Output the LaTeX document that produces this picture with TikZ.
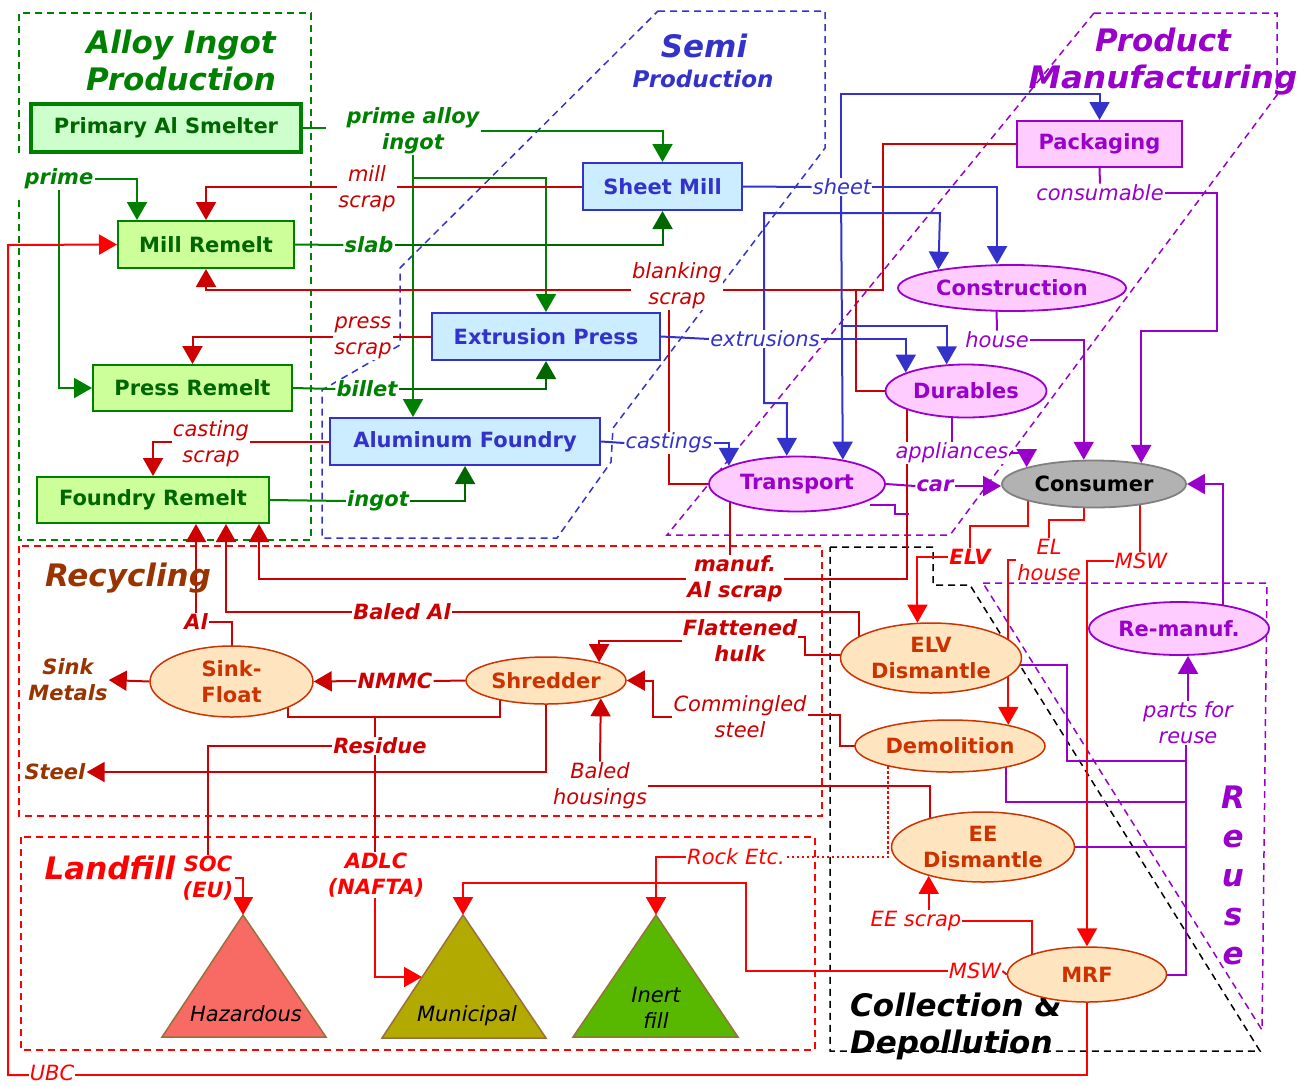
\documentclass[tikz,border=0pt]{standalone}
\usepackage{fontspec}
\setmainfont{DejaVu Sans}
\usetikzlibrary{arrows.meta,shapes.geometric,backgrounds}
\definecolor{gr}{HTML}{008000}
\definecolor{dgr}{HTML}{006600}
\definecolor{bl}{HTML}{3333CC}
\definecolor{pu}{HTML}{9900CC}
\definecolor{dr}{HTML}{CC0000}
\definecolor{rd}{HTML}{FF0000}
\definecolor{br}{HTML}{993300}
\definecolor{orb}{HTML}{CC3300}
\definecolor{smf}{HTML}{CCFFCC}
\definecolor{remf}{HTML}{CCFF99}
\definecolor{semf}{HTML}{CCECFF}
\definecolor{prf}{HTML}{FFCCFF}
\definecolor{recf}{HTML}{FFE5BF}
\definecolor{cong}{HTML}{B2B2B2}
\definecolor{cond}{HTML}{808080}
\definecolor{hazf}{HTML}{F76B64}
\definecolor{munf}{HTML}{B2AA00}
\definecolor{inf}{HTML}{58B800}
\definecolor{tribr}{HTML}{99703D}
\newcommand\fsA{\fontsize{21}{26}\selectfont}
\newcommand\fsT{\fontsize{31}{37}\selectfont}
\newcommand\fsS{\fontsize{23}{28}\selectfont}
\newcommand\fsR{\fontsize{31}{39}\selectfont}
\begin{document}
\begin{tikzpicture}[x=1pt,y=-1pt,
  ln/.style={line width=2pt},
  arr/.style={line width=2pt,-{Triangle[length=18pt,width=20pt]}},
  reg/.style={line width=1.5pt,dash pattern=on 7pt off 5pt},
  lab/.style={fill=white,inner sep=1pt,align=center,font=\fsA\itshape},
  blab/.style={fill=white,inner sep=1pt,align=center,font=\fsA\bfseries\itshape},
  ttl/.style={align=center,font=\fsT\bfseries\itshape,inner sep=0pt},
  box/.style={draw,line width=2pt,inner sep=0pt,font=\fsA\bfseries},
  ell/.style={ellipse,draw,line width=1.8pt,inner sep=0pt,align=center,font=\fsA\bfseries},
  rem/.style={box,fill=remf,draw=gr,text=dgr},
  semi/.style={box,fill=semf,draw=bl,text=bl},
  prod/.style={ell,fill=prf,draw=pu,text=pu},
  recy/.style={ell,fill=recf,draw=orb,text=orb,line width=1.5pt},
  tri/.style={draw=tribr,line width=1.5pt}
]
\useasboundingbox (0,0) rectangle (1305,1085);

% ---------- titles ----------
\node[ttl,text=gr] (t1) at (181,60.5) {Alloy Ingot\\Production};
\node[ttl,text=bl] (t2) at (704,46) {Semi};
\node[font=\fsS\bfseries\itshape,text=bl,inner sep=0pt] (t2b) at (703,79) {Production};
\node[ttl,text=pu] (t3) at (1163,62) {Product\\\scalebox{1.05}[1]{Manufacturing}};
\node[ttl,text=br] (t4) at (128,578) {Recycling};
\node[ttl,text=rd] (t5) at (110,868) {Landfill};
\node[ttl,text=black,align=left,anchor=west] (t6) at (850,1026) {Collection \&\\Depollution};
\node[align=center,inner sep=0pt,font=\fsR\bfseries\itshape,text=pu] (t7) at (1233,875) {R\\e\\u\\s\\e};

% ---------- boxes ----------
\node[box,fill=smf,draw=gr,text=dgr,line width=3.5pt,minimum width=270pt,minimum height=48pt] (smelter) at (166,128) {Primary Al Smelter};
\node[rem,minimum width=176pt,minimum height=47pt] (mill) at (206,244.5) {Mill Remelt};
\node[rem,minimum width=199pt,minimum height=46pt] (press) at (192.5,388) {Press Remelt};
\node[rem,minimum width=232pt,minimum height=46pt] (foundryR) at (153,500) {Foundry Remelt};
\node[semi,minimum width=159pt,minimum height=47pt] (sheet) at (662.5,186.5) {Sheet Mill};
\node[semi,minimum width=228pt,minimum height=47pt] (extr) at (546,336.5) {Extrusion Press};
\node[semi,minimum width=270pt,minimum height=47pt] (alfound) at (465,441.5) {Aluminum Foundry};
\node[box,fill=prf,draw=pu,text=pu,minimum width=165pt,minimum height=46pt] (pack) at (1099.5,144) {Packaging};

% ---------- ellipses ----------
\node[prod,minimum width=228pt,minimum height=46pt] (constr) at (1012,288) {Construction};
\node[prod,minimum width=161pt,minimum height=53pt] (durab) at (966,391) {Durables};
\node[prod,minimum width=176pt,minimum height=55pt] (transp) at (797,484) {Transport};
\node[ell,fill=cong,draw=cond,text=black,minimum width=184pt,minimum height=47pt] (consumer) at (1094,484) {Consumer};
\node[recy,minimum width=163pt,minimum height=71pt] (sinkf) at (231.5,681.5) {Sink-\\Float};
\node[recy,minimum width=160pt,minimum height=47pt] (shred) at (546,680.5) {Shredder};
\node[recy,minimum width=181pt,minimum height=70pt] (elv) at (931,658) {ELV\\Dismantle};
\node[recy,minimum width=190pt,minimum height=52pt] (demol) at (950,746) {Demolition};
\node[recy,minimum width=183pt,minimum height=70pt] (eed) at (983,847) {EE\\Dismantle};
\node[recy,minimum width=159pt,minimum height=55pt] (mrf) at (1087,974.5) {MRF};
\node[prod,minimum width=180pt,minimum height=53pt] (remanuf) at (1179,628.5) {Re-manuf.};

% ---------- landfills ----------
\filldraw[tri,fill=hazf] (243,915) -- (326,1037) -- (162,1037) -- cycle;
\filldraw[tri,fill=munf] (463,915) -- (546,1038) -- (382,1038) -- cycle;
\filldraw[tri,fill=inf] (656,915) -- (738,1037) -- (573,1037) -- cycle;
\node[font=\fsA\itshape] (hazt) at (246,1014) {Hazardous};
\node[font=\fsA\itshape] (munt) at (467,1016) {Municipal};
\node[font=\fsA\itshape,align=center] (inertt) at (656,1008) {Inert\\fill};
\coordinate (haz) at (243,915);
\coordinate (muni) at (463,915);
\coordinate (inert) at (656,915);
\coordinate (munil) at (422,977);

% ---------- labels ----------
\node[blab,text=gr] (pai) at (413,131) {prime alloy\\ingot};
\node[blab,text=gr] (prime) at (59,179) {prime};
\node[blab,text=gr] (slab) at (369,245) {slab};
\node[blab,text=gr] (billet) at (367,389) {billet};
\node[blab,text=gr] (ingot) at (378,501) {ingot};
\node[lab,text=dr] (millscrap) at (367,189) {mill\\scrap};
\node[lab,text=dr] (pressscrap) at (363,338) {press\\scrap};
\node[lab,text=dr] (castscrap) at (211,444) {casting\\scrap};
\node[lab,text=dr] (blank) at (677,286) {blanking\\scrap};
\node[lab,text=bl] (sheetl) at (842,187) {sheet};
\node[lab,text=bl] (extrl) at (765,339) {extrusions};
\node[lab,text=bl] (castl) at (669,443) {castings};
\node[lab,text=pu] (consl) at (1100,193) {consumable};
\node[lab,text=pu] (housel) at (997,340) {house};
\node[lab,text=pu] (appl) at (952,453) {appliances};
\node[blab,text=pu] (carl) at (935,486) {car};
\node[blab,text=rd] (elvl) at (970,557) {ELV};
\node[lab,text=rd] (elh) at (1049,560) {EL\\house};
\node[lab,text=rd] (msw1) at (1141,561) {MSW};
\node[blab,text=dr] (manuf) at (735,579) {manuf.\\Al scrap};
\node[blab,text=dr] (baledal) at (402,612) {Baled Al};
\node[blab,text=dr] (al) at (196,622) {Al};
\node[blab,text=dr] (flat) at (740,641) {Flattened\\hulk};
\node[lab,text=dr] (comm) at (740,717) {Commingled\\steel};
\node[lab,text=dr] (baledh) at (600,786) {Baled\\housings};
\node[blab,text=dr] (nmmc) at (395,681) {NMMC};
\node[blab,text=br] (sinkm) at (68,680) {Sink\\Metals};
\node[blab,text=br] (steel) at (55,772) {Steel};
\node[blab,text=dr] (residue) at (380,746) {Residue};
\node[blab,text=rd] (soc) at (208,878) {SOC\\(EU)};
\node[blab,text=rd] (adlc) at (376,875) {ADLC\\(NAFTA)};
\node[lab,text=rd] (rock) at (736,857) {Rock Etc.};
\node[lab,text=rd] (eescrap) at (916,921) {EE scrap};
\node[lab,text=rd] (msw2) at (975,971) {MSW};
\node[lab,text=rd,inner sep=0.5pt] (ubc) at (52,1073) {UBC};
\node[lab,text=pu] (parts) at (1188,723) {parts for\\reuse};

\begin{pgfonlayer}{background}
% ---------- regions ----------
\draw[reg,gr] (19,153) -- (19,13) -- (311,13) -- (311,540) -- (19,540) -- (19,200);
\draw[reg,bl] (658,11) -- (825,11) -- (825,148) -- (613,428) -- (611,462) -- (557,538) -- (322,538) -- (322,390) -- (400,345) -- (400,268) -- cycle;
\draw[reg,pu] (1094,13) -- (1277,13) -- (1277,95) -- (950,535) -- (667,535) -- cycle;
\draw[reg,rd] (19,546) rectangle (822,816);
\draw[reg,rd] (21,837) rectangle (815,1050);
\draw[reg,black] (830,547) -- (933,547) -- (933,585) -- (970,585) -- (1260,1051) -- (830,1051) -- cycle;
\draw[reg,pu] (983,583) -- (1267,583) -- (1262,1030) -- cycle;

% ---------- green ----------
\draw[ln,gr] (smelter.east) -- +(23,0);
\draw[arr,gr] (pai.east) -| (sheet.north);
\draw[arr,gr] (pai.south) -- (pai.south |- alfound.north);
\draw[arr,gr] (413,178) -| (extr.north);
\draw[arr,gr] (prime.east) -| ([xshift=20pt]mill.north west);
\draw[arr,gr] (prime.south) |- (press.west);
\draw[ln,gr] (mill.east) -- (slab.west);
\draw[arr,dgr] (slab.east) -| (sheet.south);
\draw[ln,gr] (press.east) -- (billet.west);
\draw[arr,dgr] (billet.east) -| (extr.south);
\draw[ln,gr] (foundryR.east) -- (ingot.west);
\draw[arr,dgr] (ingot.east) -| (alfound.south);

% ---------- red, upper ----------
\draw[arr,dr] (sheet.west) -| (mill.north);
\draw[arr,dr] (pack.west) -| (883,290) -| (mill.south);
\draw[ln,dr] (durab.center) -| (856,290);
\draw[ln,dr] (transp.center) -| (669,290);
\draw[arr,dr] (extr.west) -| (press.north);
\draw[arr,dr] (alfound.west) -| (foundryR.north);
\draw[ln,dr] ([xshift=-59pt]durab.center) |- (manuf.east);
\draw[ln,dr] ([xshift=-67pt]transp.center) -- ([xshift=-5pt]manuf.north);
\draw[arr,dr] (manuf.west) -| ([xshift=-11pt]foundryR.south east);
\draw[ln,dr] ([xshift=-72pt]elv.center) |- (baledal.east);
\draw[arr,dr] (baledal.west) -| ([xshift=73pt]foundryR.south);
\draw[ln,dr] (sinkf.center) |- (al.east);
\draw[arr,dr] (al.north) -- (al.north |- foundryR.south);
\draw[ln,dr] ([yshift=3pt]elv.center) -| (805,637) -- (flat.east |- 805,637);
\draw[arr,dr] (flat.west) -| (shred.19);
\draw[ln,dr] (demol.center) -| (840,715) -- (comm.east |- 840,715);
\draw[arr,dr] (comm.west) -| (653,680.5) -- (shred.east);
\draw[ln,dr] ([xshift=-53pt]eed.center) |- (baledh.east);
\draw[arr,dr] (baledh.north) -- (shred.342);
\draw[ln,dr] (shred.west) -- (nmmc.east);
\draw[arr,dr] (nmmc.west) -- (sinkf.east);
\draw[arr,dr] (sinkf.west) -- (sinkm.east);
\draw[arr,dr] (shred.center) |- (steel.east);
\draw[ln,dr] ([xshift=56pt]sinkf.center) |- (500,717) -- ([xshift=-46pt]shred.center);
\draw[ln,dr] (375,717) -- (adlc.center -| 375,0);
\draw[ln,dr] (residue.west) -| (soc.north);
\draw[arr,rd] (soc.east) -| (haz);
\draw[arr,rd] (adlc.south -| 375,0) |- (munil);

% ---------- red, lower ----------
\draw[rd,line width=2.5pt,dash pattern=on 2.5pt off 2.5pt] ([xshift=-62pt]demol.center) |- (rock.east);
\draw[arr,rd] (rock.west) -| (inert);
\draw[ln,rd] ([xshift=-55pt]mrf.center) |- (eescrap.east);
\draw[arr,rd] (eed.208 |- eescrap.north) -- (eed.208);
\draw[ln,rd] (mrf.west) -- (msw2.east);
\draw[arr,rd] (msw2.west) -| (746,883) -| (muni);
\draw[ln,rd] ([xshift=-66pt]consumer.center) |- (970,526) -- (elvl.north);
\draw[arr,rd] (elvl.west) -| (elv.111);
\draw[ln,rd] ([xshift=-10pt]consumer.center) |- (1049,520) -- (elh.north);
\draw[arr,rd] (elh.west) -| (demol.20);
\draw[ln,rd] ([xshift=46pt]consumer.center) -- (msw1.north -| 1140,0);
\draw[arr,rd] (msw1.west) -| (mrf.north);
\draw[ln,rd] (mrf.center) |- (1087,1075) -- (ubc.east |- 1087,1075);
\draw[arr,rd] (ubc.west |- 0,1075) -| (8,245) -- (mill.west);

% ---------- blue ----------
\draw[ln,bl] (sheet.east) -- (sheetl.west);
\draw[arr,bl] (sheetl.east) -| ([xshift=-15pt]constr.north);
\draw[arr,bl] (sheetl.center -| 841,0) |- ([yshift=26pt]pack.north) -- (pack.north);
\draw[arr,bl] (sheetl.center -| 841,0) -- (transp.28);
\draw[arr,bl] (841,326) -| (durab.126);
\draw[arr,bl] (extrl.center -| 764,0) |- (940,213) -- (constr.166);
\draw[arr,bl] (extrl.center -| 764,0) |- (787,403) -- (transp.110);
\draw[ln,bl] (extr.east) -- (extrl.west);
\draw[arr,bl] (extrl.east) -| (durab.163);
\draw[ln,bl] (alfound.east) -- (castl.west);
\draw[arr,bl] (castl.east) -| (transp.165);

% ---------- purple ----------
\draw[ln,pu] (pack.south) -- (consl.north);
\draw[arr,pu] (consl.east) -| (1217,331) -| (consumer.24);
\draw[ln,pu] ([xshift=-16pt]constr.center) -- (housel.north);
\draw[arr,pu] (housel.east) -| (consumer.113);
\draw[ln,pu] ([xshift=-14pt]durab.center) -- (appl.north);
\draw[arr,pu] (appl.east) -| (consumer.166);
\draw[ln,pu] (transp.east) -- (carl.west);
\draw[arr,pu] (carl.east) -- (carl.east -| consumer.west);
\draw[ln,pu] ([xshift=73pt,yshift=-21pt]transp.center) -| (895,514) -- (909,514);
\draw[arr,pu] ([xshift=44pt]remanuf.center) |- (consumer.east);
\draw[arr,pu] (parts.north) -- (parts.north |- remanuf.south);
\draw[ln,pu] (parts.south -| 1186,0) |- (mrf.center);
\draw[ln,pu] ([yshift=-7pt]elv.center) -| (1067,761) -- (1186,761);
\draw[ln,pu] ([xshift=56pt]demol.center) |- (1186,802);
\draw[ln,pu] (eed.center) -- (eed.center -| 1186,0);
\end{pgfonlayer}
\end{tikzpicture}
\end{document}
